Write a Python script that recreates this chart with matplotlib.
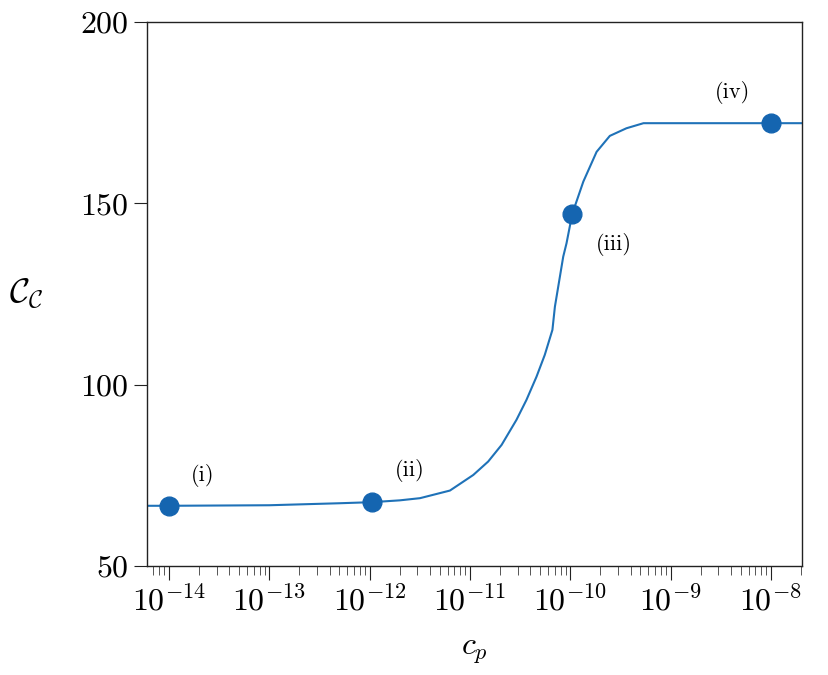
import numpy as np
import matplotlib
matplotlib.use("Agg")
import matplotlib.pyplot as plt
from matplotlib.ticker import LogLocator, NullFormatter

plt.rcParams['mathtext.fontset'] = 'cm'
plt.rcParams['font.family'] = 'serif'
plt.rcParams['font.serif'] = ['cmr10', 'DejaVu Serif']
plt.rcParams['axes.formatter.use_mathtext'] = True

# Curve: x = c_p, y = C_C
curve_x = [6.0e-15, 1.0e-14, 1.0e-13, 5.0e-13, 1.06e-12, 2.0e-12, 3.18e-12, 6.32e-12,
           1.08e-11, 1.52e-11, 2.07e-11, 2.91e-11, 3.66e-11, 4.61e-11, 5.57e-11,
           6.64e-11, 7.03e-11, 8.51e-11, 9.18e-11, 1.047e-10, 1.35e-10, 1.83e-10,
           2.48e-10, 3.63e-10, 5.37e-10, 2.1e-8]
curve_y = [66.6, 66.6, 66.75, 67.3, 67.6, 68.1, 68.7, 70.8,
           75.1, 78.8, 83.4, 90.3, 95.8, 102.2, 108.2,
           115.1, 121.5, 135.3, 139.0, 147.1, 156.0, 164.2,
           168.6, 170.7, 172.1, 172.1]

# Highlighted points
pts_x = [1.0e-14, 1.06e-12, 1.047e-10, 1.0e-8]
pts_y = [66.6, 67.6, 147.1, 172.1]
pts_labels = ['(i)', '(ii)', '(iii)', '(iv)']
label_offsets = [(24, 22), (27, 23), (30, -22), (-28, 22)]

fig = plt.figure(figsize=(8.29, 6.75), dpi=100)
ax = fig.add_axes([0.1773, 0.1615, 0.7901, 0.8059])

ax.plot(curve_x, curve_y, color='#1f72b8', lw=1.5, zorder=2)
ax.plot(pts_x, pts_y, 'o', color='#1565b0', ms=13.5, zorder=3)
for x, y, lab, off in zip(pts_x, pts_y, pts_labels, label_offsets):
    ax.annotate(lab, (x, y), xytext=off, textcoords='offset points',
                ha='center', va='center', fontsize=16)

ax.set_xscale('log')
ax.set_xlim(6.04e-15, 2.04e-8)
ax.set_ylim(50, 200)
ax.set_yticks([50, 100, 150, 200])
ax.set_xticks([1e-14, 1e-13, 1e-12, 1e-11, 1e-10, 1e-9, 1e-8])
ax.xaxis.set_minor_locator(LogLocator(base=10, subs=np.arange(2, 10), numticks=100))
ax.xaxis.set_minor_formatter(NullFormatter())

ax.tick_params(axis='both', which='major', direction='out', labelsize=23,
               width=0.8, colors='#222222', labelcolor='black')
ax.tick_params(axis='x', which='major', length=10)
ax.tick_params(axis='x', which='minor', direction='out', length=6.5, width=0.7,
               colors='#555555')
ax.tick_params(axis='y', which='major', length=9.5)
ax.tick_params(axis='y', which='minor', length=0)
for s in ax.spines.values():
    s.set_linewidth(1.0)
    s.set_color('#222222')

ax.set_xlabel(r'$c_p$', fontsize=23, labelpad=16)
ax.set_ylabel(r'$\mathcal{C}_\mathcal{C}$', fontsize=25, rotation=0,
              va='center', labelpad=39)

fig.savefig('out.png', dpi=100)
